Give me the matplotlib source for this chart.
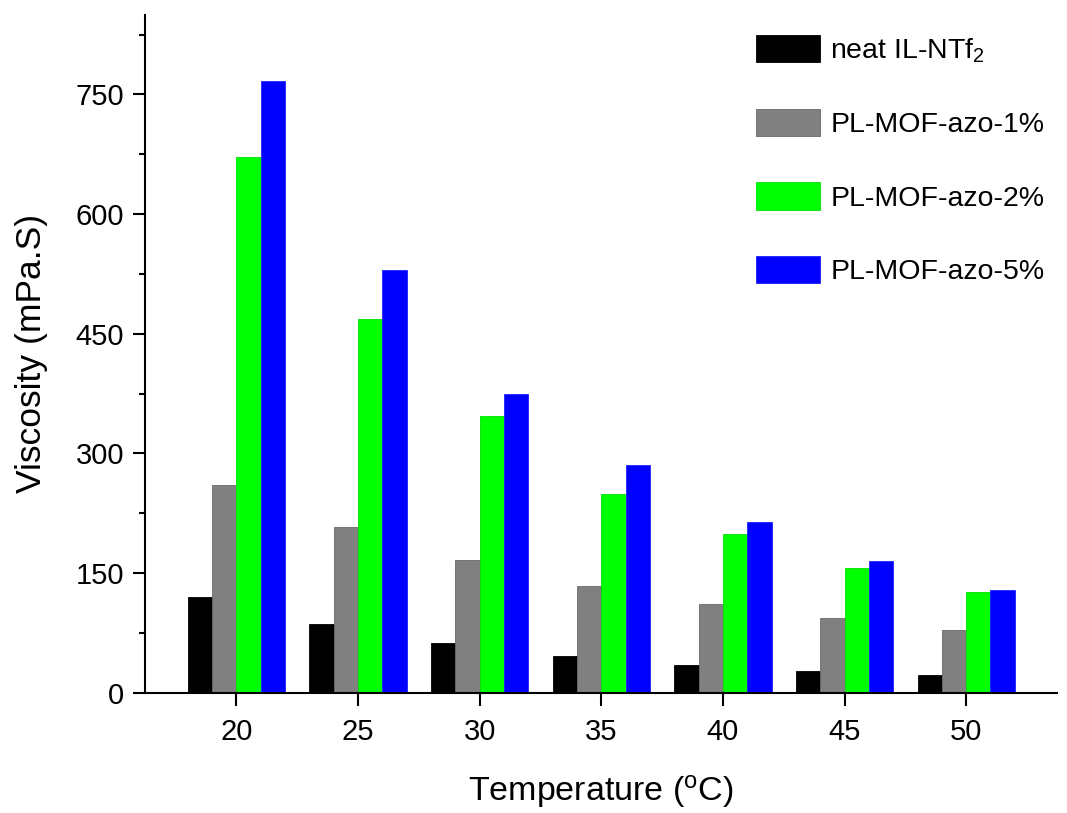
import matplotlib
matplotlib.use("Agg")
import matplotlib.pyplot as plt
import numpy as np
from matplotlib.ticker import MultipleLocator

plt.rcParams['font.family'] = ['Liberation Sans', 'DejaVu Sans']
plt.rcParams['mathtext.fontset'] = 'custom'
plt.rcParams['mathtext.rm'] = 'Liberation Sans'
plt.rcParams['mathtext.it'] = 'Liberation Sans'
plt.rcParams['mathtext.default'] = 'regular'

temps = [20, 25, 30, 35, 40, 45, 50]
neat_il = [120, 86, 62, 46, 35, 27, 22]
mof_1 = [260, 208, 166, 134, 111, 93, 79]
mof_2 = [671, 469, 347, 249, 199, 156, 126]
mof_5 = [767, 530, 375, 286, 214, 165, 129]

series = [neat_il, mof_1, mof_2, mof_5]
labels = ['neat IL-NTf$_2$', 'PL-MOF-azo-1%', 'PL-MOF-azo-2%', 'PL-MOF-azo-5%']
colors = ['#000000', '#808080', '#00ff00', '#0000ff']
edges = ['#000000', '#6a6a6a', '#00e000', '#2020ff']

fig = plt.figure(figsize=(10.67, 8.13), dpi=100)
ax = fig.add_axes([0.136, 0.148, 0.855, 0.834])

x = np.array(temps, dtype=float)
offsets = [-1.5, -0.5, 0.5, 1.5]
for vals, lab, c, ec, off in zip(series, labels, colors, edges, offsets):
    ax.bar(x + off, vals, width=1.0, color=c, edgecolor=ec, linewidth=0.6, label=lab)

ax.set_xlim(16.25, 53.75)
ax.set_ylim(0, 850)
ax.set_xticks(temps)
ax.set_yticks([0, 150, 300, 450, 600, 750])
ax.yaxis.set_minor_locator(MultipleLocator(75))

for s in ['top', 'right']:
    ax.spines[s].set_visible(False)
for s in ['left', 'bottom']:
    ax.spines[s].set_linewidth(1.5)

ax.tick_params(axis='both', which='major', direction='out', length=9, width=1.5, labelsize=21)
ax.tick_params(axis='y', which='minor', direction='out', length=4.5, width=1.5)
ax.tick_params(axis='y', which='major', pad=6)
ax.tick_params(axis='x', which='major', pad=9)

ax.set_xlabel('Temperature ($^{o}$C)', fontsize=24.5, labelpad=20)
ax.set_ylabel('Viscosity (mPa.S)', fontsize=25.5, labelpad=20)

ax.legend(loc='upper left', bbox_to_anchor=(0.67, 0.97), frameon=False, fontsize=20.5,
          handlelength=2.25, handleheight=1.1, labelspacing=1.55, handletextpad=0.35,
          borderaxespad=0, borderpad=0)

fig.savefig('out.png', dpi=100)
